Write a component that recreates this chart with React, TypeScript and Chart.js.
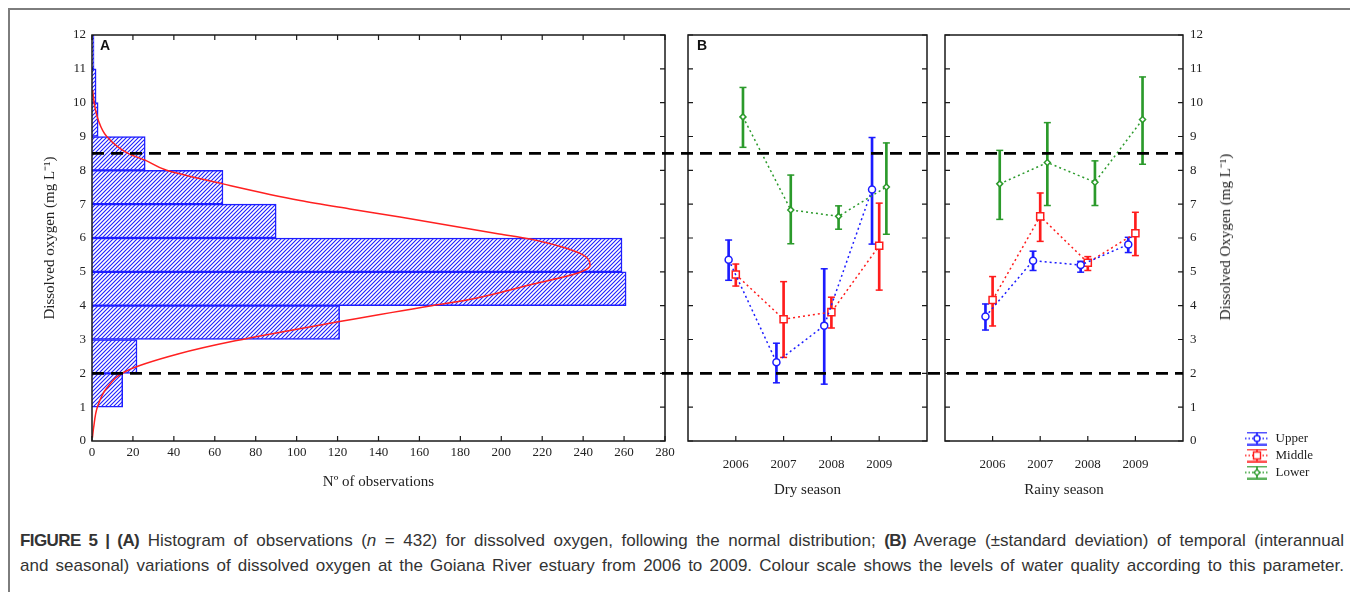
import React, { useEffect, useRef } from 'react';
import { Chart, registerables } from 'chart.js';

Chart.register(...registerables);

// ---------------- data ----------------
const HIST_BIN_START = [0, 1, 2, 3, 4, 5, 6, 7, 8, 9, 10, 11];
const HIST_COUNTS = [0, 15, 22, 121, 261, 259, 90, 64, 26, 3, 2, 1];

// fitted normal curve (DO value, count)
const CURVE_DO = [0.1, 0.4, 1.0, 1.58, 2.07, 2.57, 2.96, 3.53, 4.0, 4.15, 4.64, 4.99, 5.19, 5.53, 5.97, 6.12, 6.62, 6.86, 7.11, 7.6, 8.0, 8.3, 8.5, 9.0, 9.48, 9.98, 10.37];
const CURVE_COUNT = [0.2, 0.8, 2.6, 7.4, 16.8, 42, 70, 121, 166, 182, 215.6, 238.5, 243.4, 239, 214, 199, 150.5, 126, 101.7, 64, 36.5, 26, 17.6, 7.2, 3.1, 1.1, 0.3];

const COUNT_TICKS = [0, 20, 40, 60, 80, 100, 120, 140, 160, 180, 200, 220, 240, 260, 280];
const DO_TICKS = [0, 1, 2, 3, 4, 5, 6, 7, 8, 9, 10, 11, 12];
const THRESHOLDS = [2, 8.5];

const YEARS = [2006, 2007, 2008, 2009];
const SITES = ['Upper', 'Middle', 'Lower'];

const DRY_UPPER_MEAN = [5.36, 2.33, 3.41, 7.43];
const DRY_UPPER_LOW = [4.75, 1.72, 1.68, 5.82];
const DRY_UPPER_HIGH = [5.94, 2.89, 5.09, 8.97];
const DRY_MIDDLE_MEAN = [4.92, 3.6, 3.81, 5.77];
const DRY_MIDDLE_LOW = [4.58, 2.47, 3.34, 4.46];
const DRY_MIDDLE_HIGH = [5.23, 4.71, 4.25, 7.03];
const DRY_LOWER_MEAN = [9.58, 6.83, 6.64, 7.51];
const DRY_LOWER_LOW = [8.68, 5.83, 6.26, 6.11];
const DRY_LOWER_HIGH = [10.45, 7.86, 6.95, 8.81];

const RAINY_UPPER_MEAN = [3.68, 5.33, 5.2, 5.81];
const RAINY_UPPER_LOW = [3.28, 5.04, 4.99, 5.57];
const RAINY_UPPER_HIGH = [4.05, 5.61, 5.31, 6.02];
const RAINY_MIDDLE_MEAN = [4.17, 6.64, 5.27, 6.14];
const RAINY_MIDDLE_LOW = [3.4, 5.9, 5.04, 5.48];
const RAINY_MIDDLE_HIGH = [4.86, 7.33, 5.45, 6.76];
const RAINY_LOWER_MEAN = [7.6, 8.23, 7.65, 9.5];
const RAINY_LOWER_LOW = [6.55, 6.96, 6.96, 8.18];
const RAINY_LOWER_HIGH = [8.59, 9.41, 8.28, 10.76];

// ---------------- styles ----------------
const SITE_COLORS = ['#1c1cff', '#ff1c1c', '#2b9a2b'];
const SITE_MARKERS = ['circle', 'rect', 'rectRot'];
const SITE_RADII = [3.5, 5, 3];
const DODGE = [-0.15, 0, 0.15];
const HIST_BLUE = '#1e1eff';
const CURVE_RED = '#ff2020';
const SERIF = "'Liberation Serif', 'Times New Roman', serif";
const SANS = "'Liberation Sans', Arial, sans-serif";
const DASH_ORIGIN = 92; // page x where the dashed guide lines start

Chart.defaults.font.family = SERIF;
Chart.defaults.font.size = 13;
Chart.defaults.color = '#222';

function makeHatch(color: string) {
  const c = document.createElement('canvas');
  c.width = 4;
  c.height = 4;
  const g = c.getContext('2d')!;
  g.fillStyle = '#ffffff';
  g.fillRect(0, 0, 4, 4);
  g.strokeStyle = color;
  g.lineWidth = 1.1;
  g.beginPath();
  g.moveTo(0, 4);
  g.lineTo(4, 0);
  g.moveTo(-1, 1);
  g.lineTo(1, -1);
  g.moveTo(3, 5);
  g.lineTo(5, 3);
  g.stroke();
  return g.createPattern(c, 'repeat');
}

function legendGlyph(color: string, marker: string) {
  const c = document.createElement('canvas');
  c.width = 24;
  c.height = 14;
  const g = c.getContext('2d')!;
  g.strokeStyle = color;
  g.lineWidth = 1.6;
  g.beginPath();
  g.moveTo(2, 1);
  g.lineTo(22, 1);
  g.moveTo(2, 13);
  g.lineTo(22, 13);
  g.moveTo(12, 1);
  g.lineTo(12, 13);
  g.stroke();
  g.lineWidth = 1.3;
  g.setLineDash([1.5, 2]);
  g.beginPath();
  g.moveTo(0, 7);
  g.lineTo(24, 7);
  g.stroke();
  g.setLineDash([]);
  g.fillStyle = '#fff';
  g.lineWidth = 1.4;
  g.beginPath();
  if (marker === 'circle') g.arc(12, 7, 3, 0, Math.PI * 2);
  else if (marker === 'rect') g.rect(8.5, 3.5, 7, 7);
  else {
    g.moveTo(12, 4);
    g.lineTo(15, 7);
    g.lineTo(12, 10);
    g.lineTo(9, 7);
    g.closePath();
  }
  g.fill();
  g.stroke();
  return c;
}

const framePlugin = {
  id: 'frame',
  afterDatasetsDraw(chart: any, _args: any, o: any) {
    const { ctx, chartArea: a } = chart;
    const xs = chart.scales.x;
    const ys = chart.scales.y;
    ctx.save();
    ctx.setLineDash([]);
    ctx.strokeStyle = '#1a1a1a';
    ctx.lineWidth = 1.5;
    ctx.strokeRect(a.left, a.top, a.right - a.left, a.bottom - a.top);
    const L = 5;
    ctx.lineWidth = 1.2;
    ctx.beginPath();
    for (const v of o.xTicks || []) {
      const px = xs.getPixelForValue(v);
      if (o.bottom) {
        ctx.moveTo(px, a.bottom);
        ctx.lineTo(px, a.bottom - L);
      }
      if (o.top) {
        ctx.moveTo(px, a.top);
        ctx.lineTo(px, a.top + L);
      }
    }
    for (const v of o.yTicks || []) {
      const py = ys.getPixelForValue(v);
      if (o.left) {
        ctx.moveTo(a.left, py);
        ctx.lineTo(a.left + L, py);
      }
      if (o.right) {
        ctx.moveTo(a.right, py);
        ctx.lineTo(a.right - L, py);
      }
    }
    ctx.stroke();
    // dashed quality thresholds
    const x0 = o.dashFromArea ? a.left : 0;
    const x1 = o.dashToArea ? a.right : chart.width;
    ctx.strokeStyle = '#000';
    ctx.lineWidth = 2.6;
    ctx.setLineDash([12, 7]);
    ctx.lineDashOffset = o.pageLeft + x0 - DASH_ORIGIN;
    for (const t of THRESHOLDS) {
      const py = ys.getPixelForValue(t);
      ctx.beginPath();
      ctx.moveTo(x0, py);
      ctx.lineTo(x1, py);
      ctx.stroke();
    }
    ctx.restore();
  },
};

const legendPlacer = {
  id: 'legendPlacer',
  afterLayout(chart: any, _args: any, o: any) {
    const lg = chart.legend;
    if (!lg || !o || o.left === undefined) return;
    const w = lg.width;
    const h = lg.height;
    lg.left = o.left;
    lg.top = o.top;
    lg.right = o.left + w;
    lg.bottom = o.top + h;
  },
};

function seasonDatasets(means: number[][], lows: number[][], highs: number[][]) {
  const ds: any[] = [];
  SITES.forEach((site, s) => {
    const col = SITE_COLORS[s];
    const off = DODGE[s];
    ds.push({
      type: 'bar',
      label: site + ' sd',
      data: YEARS.map((yr, i) => ({ x: yr + off, y: [lows[s][i], highs[s][i]] })),
      backgroundColor: col,
      borderWidth: 0,
      barThickness: 2,
      grouped: false,
      order: 3,
    });
    ds.push({
      type: 'line',
      label: site + ' caps',
      data: YEARS.flatMap((yr, i) => [
        { x: yr + off, y: lows[s][i] },
        { x: yr + off, y: highs[s][i] },
      ]),
      showLine: false,
      pointStyle: 'line',
      pointRadius: 3.5,
      pointBorderColor: col,
      pointBorderWidth: 1.5,
      order: 2,
    });
    ds.push({
      type: 'line',
      label: site,
      data: YEARS.map((yr, i) => ({ x: yr + off, y: means[s][i] })),
      borderColor: col,
      borderWidth: 1.5,
      borderDash: [2, 3],
      tension: 0,
      fill: false,
      pointStyle: SITE_MARKERS[s],
      pointRadius: SITE_RADII[s],
      pointBackgroundColor: '#ffffff',
      pointBorderColor: col,
      pointBorderWidth: 1.5,
      order: 1,
    });
  });
  return ds;
}

function yearAxis(title: string) {
  return {
    type: 'linear',
    min: 2005,
    max: 2010,
    offset: false,
    afterBuildTicks: (s: any) => {
      s.ticks = YEARS.map((v) => ({ value: v }));
    },
    ticks: { padding: 16, callback: (v: any) => String(v), font: { size: 13 } },
    grid: { display: false, drawTicks: false },
    border: { display: false },
    title: { display: true, text: title, font: { size: 15 }, padding: { top: 0, bottom: 1 } },
    afterFit: (s: any) => {
      s.height = 59;
    },
  };
}

// page-coordinate geometry of the three canvases
const A_BOX = { left: 20, top: 20, width: 660, height: 480 };
const B_BOX = { left: 680, top: 20, width: 256, height: 480 };
const C_BOX = { left: 936, top: 20, width: 414, height: 480 };

export default function App() {
  const refA = useRef<HTMLCanvasElement>(null);
  const refB = useRef<HTMLCanvasElement>(null);
  const refC = useRef<HTMLCanvasElement>(null);

  useEffect(() => {
    const hatch = makeHatch(HIST_BLUE);

    const chartA = new Chart(refA.current as HTMLCanvasElement, {
      type: 'bar',
      data: {
        datasets: [
          {
            type: 'line',
            indexAxis: 'y',
            data: CURVE_DO.map((d, i) => ({ x: CURVE_COUNT[i], y: d })),
            borderColor: CURVE_RED,
            borderWidth: 1.5,
            pointRadius: 0,
            cubicInterpolationMode: 'monotone',
            fill: false,
            order: 0,
          } as any,
          {
            type: 'bar',
            data: HIST_BIN_START.map((s, i) => ({ x: HIST_COUNTS[i], y: s + 0.5 })),
            backgroundColor: hatch as any,
            borderColor: HIST_BLUE,
            borderWidth: 1.5,
            barPercentage: 1,
            categoryPercentage: 1,
            order: 1,
          } as any,
        ],
      },
      options: {
        indexAxis: 'y',
        responsive: false,
        animation: false,
        events: [],
        layout: { padding: { top: 15, right: 15, bottom: 0, left: 0 } },
        plugins: {
          legend: { display: false },
          tooltip: { enabled: false },
          frame: {
            xTicks: COUNT_TICKS,
            yTicks: DO_TICKS,
            top: true,
            bottom: true,
            right: true,
            dashFromArea: true,
            dashToArea: false,
            pageLeft: A_BOX.left,
          },
        } as any,
        scales: {
          x: {
            type: 'linear',
            min: 0,
            max: 280,
            offset: false,
            ticks: { stepSize: 20, padding: 4, font: { size: 13 } },
            grid: { display: false, drawTicks: false },
            border: { display: false },
            title: { display: true, text: 'Nº of observations', font: { size: 15 }, padding: { top: 0, bottom: 9 } },
            afterFit: (s: any) => {
              s.height = 59;
            },
          },
          y: {
            type: 'linear',
            min: 0,
            max: 12,
            offset: false,
            ticks: { stepSize: 1, padding: 6, font: { size: 13 } },
            grid: { display: false, drawTicks: false, offset: false },
            border: { display: false },
            title: { display: true, text: 'Dissolved oxygen (mg L⁻¹)', font: { size: 15 }, padding: { top: 21, bottom: 0 } },
            afterFit: (s: any) => {
              s.width = 72;
            },
          },
        } as any,
      },
      plugins: [framePlugin],
    } as any);

    const chartB = new Chart(refB.current as HTMLCanvasElement, {
      type: 'line',
      data: {
        datasets: seasonDatasets(
          [DRY_UPPER_MEAN, DRY_MIDDLE_MEAN, DRY_LOWER_MEAN],
          [DRY_UPPER_LOW, DRY_MIDDLE_LOW, DRY_LOWER_LOW],
          [DRY_UPPER_HIGH, DRY_MIDDLE_HIGH, DRY_LOWER_HIGH]
        ),
      },
      options: {
        responsive: false,
        animation: false,
        events: [],
        layout: { padding: { top: 15, right: 9, bottom: 0, left: 8 } },
        plugins: {
          legend: { display: false },
          tooltip: { enabled: false },
          frame: {
            xTicks: YEARS,
            yTicks: DO_TICKS,
            bottom: true,
            left: true,
            right: true,
            dashFromArea: false,
            dashToArea: false,
            pageLeft: B_BOX.left,
          },
        } as any,
        scales: {
          x: yearAxis('Dry season'),
          y: { type: 'linear', min: 0, max: 12, display: false },
        } as any,
      },
      plugins: [framePlugin],
    } as any);

    const glyphs = SITES.map((_, s) => legendGlyph(SITE_COLORS[s], SITE_MARKERS[s]));

    const chartC = new Chart(refC.current as HTMLCanvasElement, {
      type: 'line',
      data: {
        datasets: seasonDatasets(
          [RAINY_UPPER_MEAN, RAINY_MIDDLE_MEAN, RAINY_LOWER_MEAN],
          [RAINY_UPPER_LOW, RAINY_MIDDLE_LOW, RAINY_LOWER_LOW],
          [RAINY_UPPER_HIGH, RAINY_MIDDLE_HIGH, RAINY_LOWER_HIGH]
        ),
      },
      options: {
        responsive: false,
        animation: false,
        events: [],
        layout: { padding: { top: 15, right: 0, bottom: 0, left: 9 } },
        plugins: {
          legend: {
            display: true,
            position: 'chartArea',
            align: 'start',
            labels: {
              usePointStyle: true,
              pointStyleWidth: 24,
              padding: 4,
              color: '#222',
              font: { size: 13, family: SERIF },
              generateLabels: () =>
                SITES.map((name, s) => ({
                  text: name,
                  pointStyle: glyphs[s],
                  fillStyle: 'rgba(0,0,0,0)',
                  strokeStyle: 'rgba(0,0,0,0)',
                  lineWidth: 0,
                  hidden: false,
                  fontColor: '#222',
                  datasetIndex: s * 3 + 2,
                })),
            },
          },
          legendPlacer: { left: 1241 - C_BOX.left, top: 428 - C_BOX.top },
          tooltip: { enabled: false },
          frame: {
            xTicks: YEARS,
            yTicks: DO_TICKS,
            bottom: true,
            left: true,
            right: true,
            dashFromArea: false,
            dashToArea: true,
            pageLeft: C_BOX.left,
          },
        } as any,
        scales: {
          x: yearAxis('Rainy season'),
          y: {
            type: 'linear',
            position: 'right',
            min: 0,
            max: 12,
            offset: false,
            ticks: { stepSize: 1, padding: 7, font: { size: 13 } },
            grid: { display: false, drawTicks: false },
            border: { display: false },
            afterFit: (s: any) => {
              s.width = 167;
            },
          },
        } as any,
      },
      plugins: [framePlugin, legendPlacer],
    } as any);

    return () => {
      chartA.destroy();
      chartB.destroy();
      chartC.destroy();
    };
  }, []);

  const canvasStyle = (b: { left: number; top: number; width: number; height: number }) => ({
    position: 'absolute' as const,
    left: b.left - 8,
    top: b.top - 8,
    width: b.width,
    height: b.height,
  });

  const boldCaption = { fontWeight: 'bold' as const, letterSpacing: '-0.6px' };

  return (
    <div style={{ position: 'relative', width: 1350, height: 584 }}>
      <div
        style={{
          position: 'absolute',
          left: 0,
          top: 0,
          width: 1348,
          height: 600,
          boxSizing: 'border-box',
          border: '2px solid #7d7d7d',
        }}
      />
      <canvas ref={refA} width={A_BOX.width} height={A_BOX.height} style={canvasStyle(A_BOX)} />
      <canvas ref={refB} width={B_BOX.width} height={B_BOX.height} style={canvasStyle(B_BOX)} />
      <canvas ref={refC} width={C_BOX.width} height={C_BOX.height} style={canvasStyle(C_BOX)} />
      <div
        style={{
          position: 'absolute',
          left: 100 - 8,
          top: 37 - 8,
          font: `bold 14px ${SANS}`,
          lineHeight: '16px',
          color: '#111',
        }}
      >
        A
      </div>
      <div
        style={{
          position: 'absolute',
          left: 697 - 8,
          top: 37 - 8,
          font: `bold 14px ${SANS}`,
          lineHeight: '16px',
          color: '#111',
        }}
      >
        B
      </div>
      <div
        style={{
          position: 'absolute',
          left: 1224 - 8,
          top: 237 - 8,
          transform: 'translate(-50%, -50%) rotate(-90deg)',
          whiteSpace: 'nowrap',
          font: `15px ${SERIF}`,
          color: '#222',
        }}
      >
        Dissolved Oxygen (mg L⁻¹)
      </div>
      <div
        style={{
          position: 'absolute',
          left: 20 - 8,
          top: 528 - 8,
          width: 1324,
          font: `17px ${SANS}`,
          lineHeight: '25px',
          color: '#333',
          textAlign: 'justify',
          textAlignLast: 'justify',
        }}
      >
        <span style={boldCaption}>FIGURE 5 | (A)</span> Histogram of observations (<i>n</i> = 432) for dissolved
        oxygen, following the normal distribution; <span style={boldCaption}>(B)</span> Average (±standard deviation)
        of temporal (interannual
        <br />
        and seasonal) variations of dissolved oxygen at the Goiana River estuary from 2006 to 2009. Colour scale shows
        the levels of water quality according to this parameter.
      </div>
    </div>
  );
}
